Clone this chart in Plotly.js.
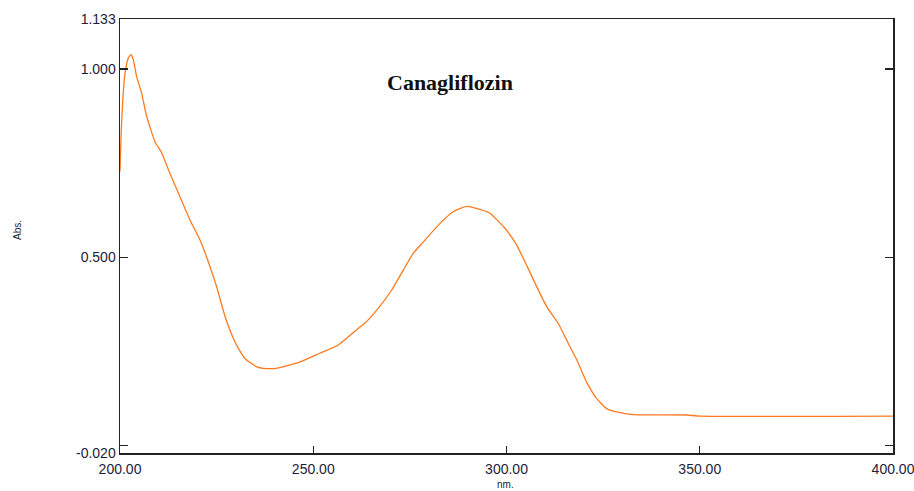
<!DOCTYPE html>
<html>
<head>
<meta charset="utf-8">
<script src="https://cdn.plot.ly/plotly-3.0.1.min.js"></script>
<style>html,body{margin:0;padding:0;background:#fff;}#chart{width:914px;height:491px;}</style>
</head>
<body>
<div id="chart"></div>
<script>
const wavelength = [200.0, 200.26, 200.7, 201.3, 202.15, 202.85, 203.45, 204.3, 205.6, 206.9, 209.05, 210.8, 212.9, 215.5, 218.1, 220.7, 223.3, 225.0, 227.2, 229.75, 232.3, 235.4, 237.1, 240.5, 246.6, 251.7, 256.5, 261.2, 263.8, 266.8, 270.3, 273.3, 275.9, 278.5, 282.8, 286.2, 289.7, 293.1, 295.7, 299.6, 302.6, 305.2, 307.8, 310.4, 313.4, 316.0, 318.2, 320.7, 323.3, 325.9, 329.4, 332.8, 346.6, 350.1, 400.0];
const absorbance = [0.728, 0.821, 0.914, 0.989, 1.029, 1.038, 1.025, 0.980, 0.936, 0.874, 0.807, 0.777, 0.723, 0.661, 0.599, 0.546, 0.475, 0.422, 0.342, 0.275, 0.231, 0.209, 0.205, 0.205, 0.222, 0.245, 0.267, 0.307, 0.329, 0.364, 0.413, 0.466, 0.511, 0.541, 0.590, 0.621, 0.635, 0.627, 0.617, 0.577, 0.533, 0.479, 0.422, 0.369, 0.324, 0.271, 0.227, 0.169, 0.125, 0.098, 0.087, 0.082, 0.081, 0.078, 0.078];
const xTickVals = [200, 250, 300, 350, 400];
const xTickText = ['200.00', '250.00', '300.00', '350.00', '400.00'];
const yTickVals = [-0.020, 0.0, 0.5, 1.0, 1.133];
const yTickText = ['-0.020', '', '0.500', '1.000', '1.133'];

const trace = {
  x: wavelength, y: absorbance, type: 'scatter', mode: 'lines',
  line: {color: '#ff7a1f', width: 1.3, shape: 'spline', smoothing: 0.5},
  hoverinfo: 'skip'
};
const txtColor = '#1c1c3c';
const tickFont = {family: 'Liberation Sans, Arial, sans-serif', size: 14, color: txtColor};
const smallFont = {family: 'Liberation Sans, Arial, sans-serif', size: 10, color: txtColor};
const layout = {
  width: 914, height: 491,
  margin: {l: 120, r: 21, t: 19, b: 38},
  paper_bgcolor: '#fff', plot_bgcolor: '#fff',
  showlegend: false,
  xaxis: {
    range: [200, 400], tickmode: 'array', tickvals: xTickVals, ticktext: xTickText,
    ticks: 'inside', ticklen: 7, tickwidth: 1.3, tickcolor: '#222',
    showline: true, linecolor: '#222', linewidth: 1.5, mirror: true,
    showgrid: false, zeroline: false, tickfont: tickFont, ticklabelstandoff: 3,
    ticklabeloverflow: 'allow'
  },
  yaxis: {
    range: [-0.020, 1.133], tickmode: 'array', tickvals: yTickVals, ticktext: yTickText,
    ticks: 'inside', ticklen: 8, tickwidth: 1.3, tickcolor: '#222',
    showline: true, linecolor: '#222', linewidth: 1.5, mirror: 'ticks',
    showgrid: false, zeroline: false, tickfont: tickFont, ticklabeloverflow: 'allow'
  },
  annotations: [
    {
      text: '<b>Canagliflozin</b>', xref: 'paper', yref: 'paper',
      x: (450 - 120) / 773, y: 1 - (82 - 19) / 434, xanchor: 'center', yanchor: 'middle',
      showarrow: false, font: {family: 'Liberation Serif, Times New Roman, serif', size: 22, color: '#111'}
    },
    {
      text: 'Abs.', xref: 'paper', yref: 'paper', textangle: -90,
      x: (18 - 120) / 773, y: 1 - (230 - 19) / 434, xanchor: 'center', yanchor: 'middle',
      showarrow: false, font: smallFont
    },
    {
      text: 'nm.', xref: 'paper', yref: 'paper',
      x: (505 - 120) / 773, y: 1 - (485 - 19) / 434, xanchor: 'center', yanchor: 'middle',
      showarrow: false, font: smallFont
    }
  ]
};
Plotly.newPlot('chart', [trace], layout, {displayModeBar: false, staticPlot: true});
</script>
</body>
</html>
